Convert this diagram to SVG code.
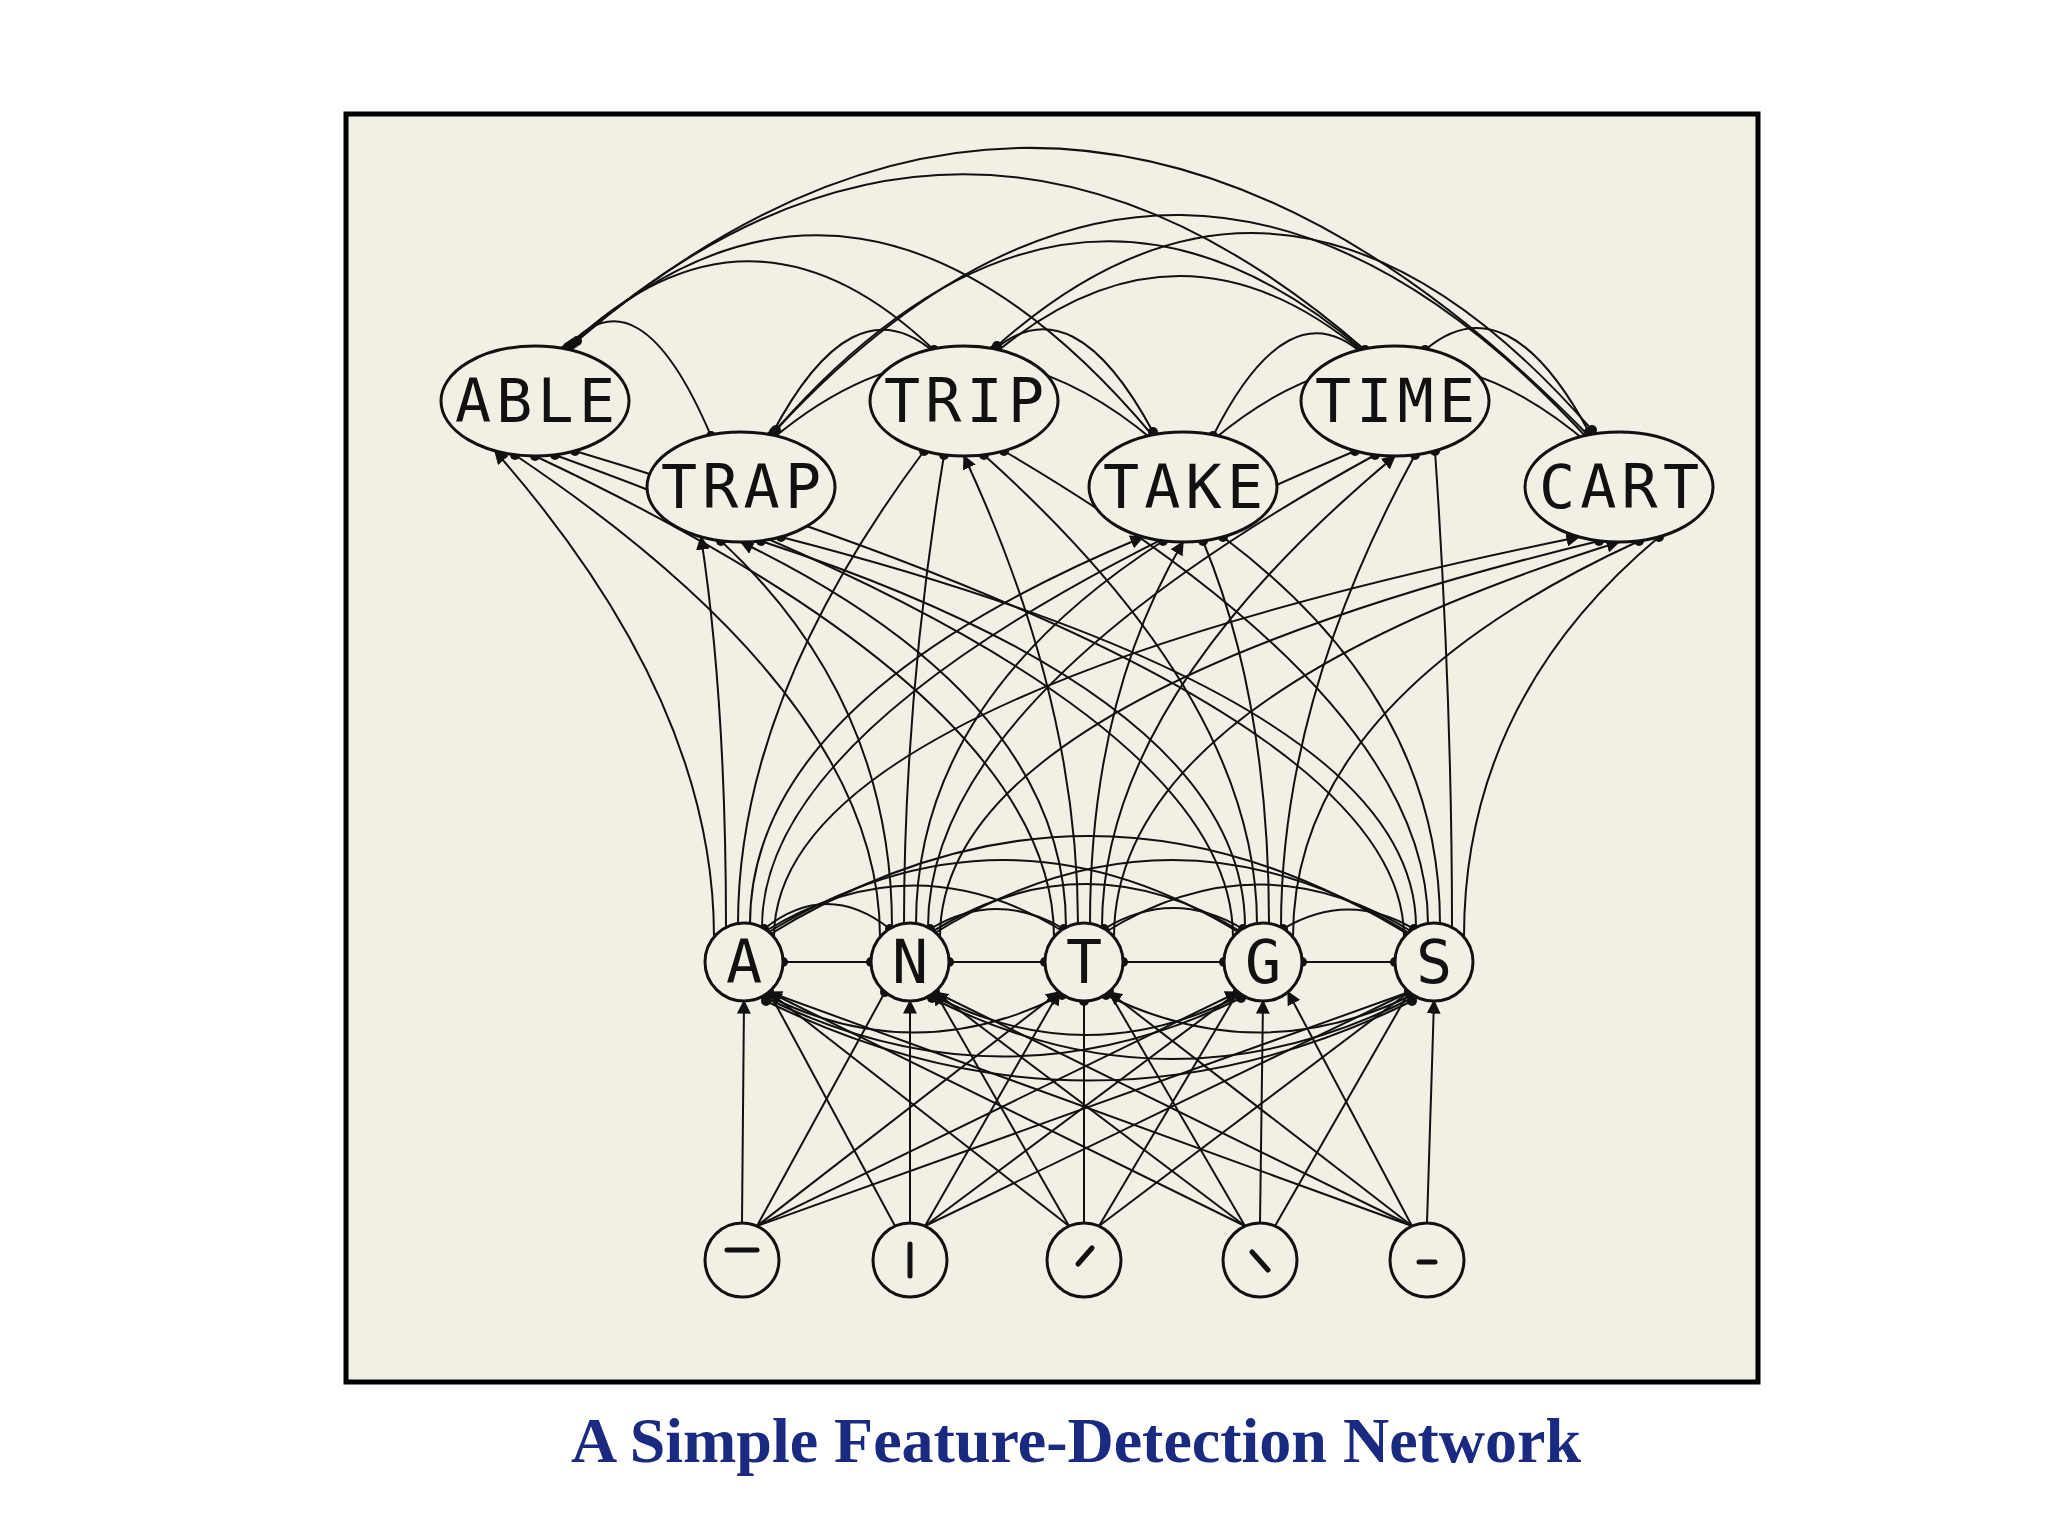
<svg xmlns="http://www.w3.org/2000/svg" width="2048" height="1536" viewBox="0 0 2048 1536">
<style>
.c{fill:none;stroke:#111;stroke-width:2}
.a{marker-end:url(#ar)}
.d{marker-end:url(#dt)}
.dd{marker-start:url(#dt);marker-end:url(#dt)}
.n{fill:#f2efe4;stroke:#111;stroke-width:3}
.w{font-family:"DejaVu Sans Mono",monospace;font-size:60px;fill:#111;text-anchor:middle}
.g{stroke:#111;stroke-width:5;stroke-linecap:round}
</style>
<defs>
<marker id="ar" viewBox="0 0 10 10" refX="9" refY="5" markerWidth="14" markerHeight="14" markerUnits="userSpaceOnUse" orient="auto"><path d="M0,0 L10,5 L0,10 z" fill="#111"/></marker>
<marker id="dt" viewBox="0 0 10 10" refX="5" refY="5" markerWidth="10" markerHeight="10" markerUnits="userSpaceOnUse"><circle cx="5" cy="5" r="5" fill="#111"/></marker>
</defs>
<rect width="2048" height="1536" fill="#fff"/>
<rect x="346" y="114" width="1412" height="1268" fill="#f2efe4" stroke="#000" stroke-width="5"/>
<g id="connectors">
<path class="c dd" d="M565,350 Q638,264 711,436"/>
<path class="c dd" d="M568,347 Q750,174 934,350"/>
<path class="c dd" d="M571,345 Q859,87 1153,436"/>
<path class="c dd" d="M574,343 Q965,2 1365,350"/>
<path class="c dd" d="M577,341 Q1077,-88 1589,436"/>
<path class="c dd" d="M771,436 Q852,281 934,352"/>
<path class="c dd" d="M771,440 Q962,279 1153,440"/>
<path class="c dd" d="M774,432 Q1068,96 1365,352"/>
<path class="c dd" d="M776,430 Q1180,-5 1589,440"/>
<path class="c dd" d="M994,350 Q1073,283 1153,432"/>
<path class="c dd" d="M994,354 Q1180,198 1365,354"/>
<path class="c dd" d="M997,346 Q1291,84 1592,430"/>
<path class="c dd" d="M1213,436 Q1289,285 1365,356"/>
<path class="c dd" d="M1213,440 Q1401,282 1589,444"/>
<path class="c dd" d="M1425,350 Q1507,280 1589,432"/>

<path class="c a" d="M714,937 Q714,700 495,451"/>
<path class="c a" d="M726,927 Q726,700 701,537"/>
<path class="c d" d="M738,924 Q738,700 924,451"/>
<path class="c a" d="M750,924 Q750,700 1143,537"/>
<path class="c d" d="M762,927 Q762,700 1355,451"/>
<path class="c a" d="M774,937 Q774,700 1579,537"/>
<path class="c d" d="M880,937 Q880,700 515,455"/>
<path class="c d" d="M892,927 Q892,700 721,541"/>
<path class="c d" d="M904,924 Q904,700 944,455"/>
<path class="c d" d="M916,924 Q916,700 1163,541"/>
<path class="c d" d="M928,927 Q928,700 1375,455"/>
<path class="c d" d="M940,937 Q940,700 1599,541"/>
<path class="c d" d="M1054,937 Q1054,700 535,456"/>
<path class="c a" d="M1066,927 Q1066,700 741,542"/>
<path class="c a" d="M1078,924 Q1078,700 964,456"/>
<path class="c a" d="M1090,924 Q1090,700 1183,542"/>
<path class="c a" d="M1102,927 Q1102,700 1395,456"/>
<path class="c a" d="M1114,937 Q1114,700 1619,542"/>
<path class="c d" d="M1233,937 Q1233,700 555,455"/>
<path class="c d" d="M1245,927 Q1245,700 761,541"/>
<path class="c d" d="M1257,924 Q1257,700 984,455"/>
<path class="c d" d="M1269,924 Q1269,700 1203,541"/>
<path class="c d" d="M1281,927 Q1281,700 1415,455"/>
<path class="c d" d="M1293,937 Q1293,700 1639,541"/>
<path class="c d" d="M1404,937 Q1404,700 575,451"/>
<path class="c d" d="M1416,927 Q1416,700 781,537"/>
<path class="c d" d="M1428,924 Q1428,700 1004,451"/>
<path class="c d" d="M1440,924 Q1440,700 1223,537"/>
<path class="c d" d="M1452,927 Q1452,700 1435,451"/>
<path class="c d" d="M1464,937 Q1464,700 1659,537"/>

<path class="c dd" d="M764,929 Q827,879 890,929"/>
<path class="c dd" d="M764,932 Q914,839 1064,932"/>
<path class="c dd" d="M764,935 Q1003,785 1243,935"/>
<path class="c dd" d="M764,938 Q1089,734 1414,938"/>
<path class="c dd" d="M930,929 Q997,889 1064,929"/>
<path class="c dd" d="M930,933 Q1086,835 1243,933"/>
<path class="c dd" d="M930,936 Q1172,784 1414,936"/>
<path class="c dd" d="M1104,929 Q1173,887 1243,929"/>
<path class="c dd" d="M1104,933 Q1259,836 1414,933"/>
<path class="c dd" d="M1283,929 Q1348,890 1414,929"/>
<path class="c dd" d="M766,995 Q914,1070 1062,995"/>
<path class="c dd" d="M766,998 Q1003,1115 1241,998"/>
<path class="c dd" d="M766,1001 Q1089,1160 1412,1001"/>
<path class="c dd" d="M932,995 Q1086,1075 1241,995"/>
<path class="c dd" d="M932,998 Q1172,1120 1412,998"/>
<path class="c dd" d="M1106,995 Q1259,1070 1412,995"/>
<path class="c dd" d="M783,962 L871,962"/>
<path class="c dd" d="M949,962 L1045,962"/>
<path class="c dd" d="M1123,962 L1224,962"/>
<path class="c dd" d="M1302,962 L1395,962"/>

<path class="c a" d="M742,1223 L744,1001"/>
<path class="c d" d="M757,1226 L885,992"/>
<path class="c a" d="M757,1226 L1059,992"/>
<path class="c a" d="M757,1226 L1238,992"/>
<path class="c d" d="M757,1226 L1409,992"/>
<path class="c d" d="M895,1226 L769,992"/>
<path class="c a" d="M910,1223 L910,1001"/>
<path class="c a" d="M925,1226 L1059,992"/>
<path class="c d" d="M925,1226 L1238,992"/>
<path class="c d" d="M925,1226 L1409,992"/>
<path class="c a" d="M1069,1226 L769,992"/>
<path class="c a" d="M1069,1226 L935,992"/>
<path class="c d" d="M1084,1223 L1084,1001"/>
<path class="c d" d="M1099,1226 L1238,992"/>
<path class="c d" d="M1099,1226 L1409,992"/>
<path class="c a" d="M1245,1226 L769,992"/>
<path class="c a" d="M1245,1226 L935,992"/>
<path class="c d" d="M1245,1226 L1109,992"/>
<path class="c a" d="M1260,1223 L1263,1001"/>
<path class="c d" d="M1275,1226 L1409,992"/>
<path class="c d" d="M1412,1226 L769,992"/>
<path class="c d" d="M1412,1226 L935,992"/>
<path class="c a" d="M1412,1226 L1109,992"/>
<path class="c a" d="M1412,1226 L1288,992"/>
<path class="c a" d="M1427,1223 L1434,1001"/>
</g>
<g id="ABLE"><ellipse class="n" cx="535" cy="401" rx="94" ry="55"/><text class="w" x="535" y="422" textLength="160">ABLE</text></g>
<g id="TRAP"><ellipse class="n" cx="741" cy="487" rx="94" ry="55"/><text class="w" x="741" y="508" textLength="160">TRAP</text></g>
<g id="TRIP"><ellipse class="n" cx="964" cy="401" rx="94" ry="55"/><text class="w" x="964" y="422" textLength="160">TRIP</text></g>
<g id="TAKE"><ellipse class="n" cx="1183" cy="487" rx="94" ry="55"/><text class="w" x="1183" y="508" textLength="160">TAKE</text></g>
<g id="TIME"><ellipse class="n" cx="1395" cy="401" rx="94" ry="55"/><text class="w" x="1395" y="422" textLength="160">TIME</text></g>
<g id="CART"><ellipse class="n" cx="1619" cy="487" rx="94" ry="55"/><text class="w" x="1619" y="508" textLength="160">CART</text></g>
<g id="A"><circle class="n" cx="744" cy="962" r="39"/><text class="w" x="744" y="983">A</text></g>
<g id="N"><circle class="n" cx="910" cy="962" r="39"/><text class="w" x="910" y="983">N</text></g>
<g id="T"><circle class="n" cx="1084" cy="962" r="39"/><text class="w" x="1084" y="983">T</text></g>
<g id="G"><circle class="n" cx="1263" cy="962" r="39"/><text class="w" x="1263" y="983">G</text></g>
<g id="S"><circle class="n" cx="1434" cy="962" r="39"/><text class="w" x="1434" y="983">S</text></g>
<g id="f1"><circle class="n" cx="742" cy="1260" r="37"/><line class="g" x1="727" y1="1250" x2="757" y2="1250"/></g>
<g id="f2"><circle class="n" cx="910" cy="1260" r="37"/><line class="g" x1="910" y1="1244" x2="910" y2="1276"/></g>
<g id="f3"><circle class="n" cx="1084" cy="1260" r="37"/><line class="g" x1="1078" y1="1264" x2="1092" y2="1248"/></g>
<g id="f4"><circle class="n" cx="1260" cy="1260" r="37"/><line class="g" x1="1252" y1="1252" x2="1268" y2="1270"/></g>
<g id="f5"><circle class="n" cx="1427" cy="1260" r="37"/><line class="g" x1="1419" y1="1262" x2="1435" y2="1262"/></g>
<text x="1076" y="1462" font-family="Liberation Serif,serif" font-weight="bold" font-size="64" fill="#1a2a80" text-anchor="middle">A Simple Feature-Detection Network</text>
</svg>
